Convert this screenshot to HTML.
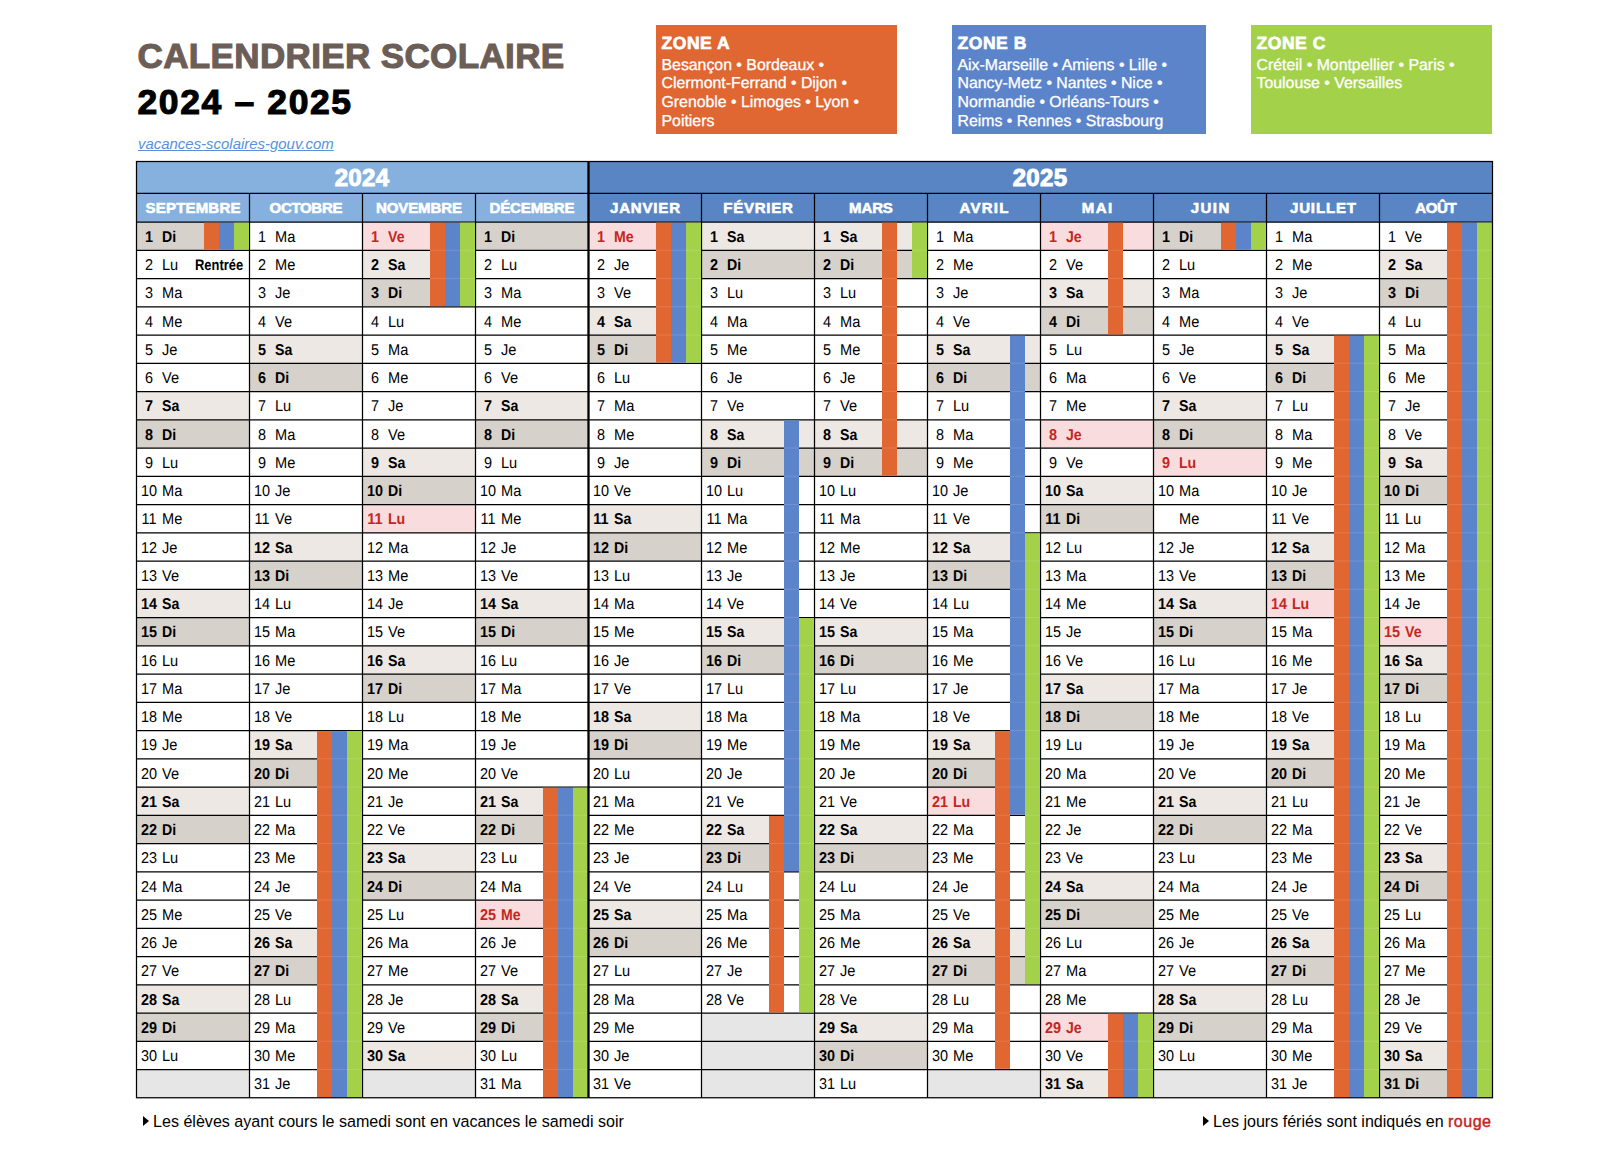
<!DOCTYPE html>
<html lang="fr"><head><meta charset="utf-8"><title>Calendrier scolaire 2024 – 2025</title>
<style>
html,body{margin:0;padding:0;background:#fff}
body{width:1610px;height:1154px;position:relative;overflow:hidden;font-family:"Liberation Sans",sans-serif;color:#000}
#g{position:absolute;left:0;top:0}
.d{position:absolute;width:113px;height:28.25px;line-height:28px;font-size:15.7px;text-rendering:geometricPrecision;white-space:nowrap}
.d .n{position:absolute;left:.7px;width:24px;text-align:center;font-weight:inherit;transform:scaleX(.92)}
.d .w{position:absolute;left:26.2px;transform:scaleX(.93);transform-origin:0 50%}
.d.b{font-weight:bold}
.d.h{font-weight:bold;color:#C4261D}
.d.b .w,.d.h .w{transform:scaleX(.9);left:26.2px}
.d b{font-weight:inherit}
.rt{position:absolute;left:58.5px;font-style:normal;font-weight:bold;font-size:15.2px;transform:scaleX(.85);transform-origin:0 50%}
.mh{position:absolute;top:193px;width:114px;height:30px;line-height:30px;text-align:center;color:#fff;font-weight:bold;font-size:15px;-webkit-text-stroke:.6px #fff}
.yh{position:absolute;top:162px;height:31px;line-height:32px;text-align:center;color:#fff;font-weight:bold;font-size:24px;-webkit-text-stroke:1px #fff;letter-spacing:.3px}
#t1{position:absolute;left:137.5px;top:36px;font-size:35px;line-height:40px;letter-spacing:.37px;font-weight:bold;color:#6B5E57;-webkit-text-stroke:1.1px #6B5E57;white-space:nowrap;transform-origin:0 50%}
#t2{position:absolute;left:137.5px;top:82px;font-size:35.5px;line-height:40px;letter-spacing:1.62px;font-weight:bold;color:#000;-webkit-text-stroke:1.1px #000;white-space:nowrap;transform-origin:0 50%}
#lk{position:absolute;left:138px;top:135px;font-size:14.95px;line-height:18px;font-style:italic;color:#5B8FDB;text-decoration:underline;white-space:nowrap}
.z{position:absolute;top:25px;height:109px;color:#fff;box-sizing:border-box;padding:8px 0 0 5.5px;font-size:15.85px;line-height:18.85px;white-space:nowrap;text-rendering:geometricPrecision;-webkit-text-stroke:.3px #fff}
.z h2{margin:0 0 3.5px 0;font-size:17.5px;line-height:20px;font-weight:bold;-webkit-text-stroke:.7px #fff;letter-spacing:.55px}
.ft{position:absolute;top:1111px;font-size:16.08px;line-height:20px;white-space:nowrap}
.ft i{display:inline-block;width:0;height:0;border-left:6.2px solid #000;border-top:5.3px solid transparent;border-bottom:5.3px solid transparent;margin-right:4px;vertical-align:.7px}
.ft b{color:#C4261D;font-weight:normal;-webkit-text-stroke:.45px #C4261D;letter-spacing:.45px}
</style></head><body>
<svg id="g" width="1610" height="1154" viewBox="0 0 1610 1154">
<rect x="136.5" y="161.5" width="452" height="60.5" fill="#86B0DE"/>
<rect x="588.5" y="161.5" width="904" height="60.5" fill="#5985C4"/>
<rect x="136.5" y="222" width="113" height="28.25" fill="#D6D1CB"/>
<rect x="136.5" y="391.5" width="113" height="28.25" fill="#EDE8E4"/>
<rect x="136.5" y="419.75" width="113" height="28.25" fill="#D6D1CB"/>
<rect x="136.5" y="589.25" width="113" height="28.25" fill="#EDE8E4"/>
<rect x="136.5" y="617.5" width="113" height="28.25" fill="#D6D1CB"/>
<rect x="136.5" y="787" width="113" height="28.25" fill="#EDE8E4"/>
<rect x="136.5" y="815.25" width="113" height="28.25" fill="#D6D1CB"/>
<rect x="136.5" y="984.75" width="113" height="28.25" fill="#EDE8E4"/>
<rect x="136.5" y="1013" width="113" height="28.25" fill="#D6D1CB"/>
<rect x="136.5" y="1069.5" width="113" height="28.25" fill="#E6E6E6"/>
<rect x="249.5" y="335" width="113" height="28.25" fill="#EDE8E4"/>
<rect x="249.5" y="363.25" width="113" height="28.25" fill="#D6D1CB"/>
<rect x="249.5" y="532.75" width="113" height="28.25" fill="#EDE8E4"/>
<rect x="249.5" y="561" width="113" height="28.25" fill="#D6D1CB"/>
<rect x="249.5" y="730.5" width="113" height="28.25" fill="#EDE8E4"/>
<rect x="249.5" y="758.75" width="113" height="28.25" fill="#D6D1CB"/>
<rect x="249.5" y="928.25" width="113" height="28.25" fill="#EDE8E4"/>
<rect x="249.5" y="956.5" width="113" height="28.25" fill="#D6D1CB"/>
<rect x="362.5" y="222" width="113" height="28.25" fill="#F9DCDD"/>
<rect x="362.5" y="250.25" width="113" height="28.25" fill="#EDE8E4"/>
<rect x="362.5" y="278.5" width="113" height="28.25" fill="#D6D1CB"/>
<rect x="362.5" y="448" width="113" height="28.25" fill="#EDE8E4"/>
<rect x="362.5" y="476.25" width="113" height="28.25" fill="#D6D1CB"/>
<rect x="362.5" y="504.5" width="113" height="28.25" fill="#F9DCDD"/>
<rect x="362.5" y="645.75" width="113" height="28.25" fill="#EDE8E4"/>
<rect x="362.5" y="674" width="113" height="28.25" fill="#D6D1CB"/>
<rect x="362.5" y="843.5" width="113" height="28.25" fill="#EDE8E4"/>
<rect x="362.5" y="871.75" width="113" height="28.25" fill="#D6D1CB"/>
<rect x="362.5" y="1041.25" width="113" height="28.25" fill="#EDE8E4"/>
<rect x="362.5" y="1069.5" width="113" height="28.25" fill="#E6E6E6"/>
<rect x="475.5" y="222" width="113" height="28.25" fill="#D6D1CB"/>
<rect x="475.5" y="391.5" width="113" height="28.25" fill="#EDE8E4"/>
<rect x="475.5" y="419.75" width="113" height="28.25" fill="#D6D1CB"/>
<rect x="475.5" y="589.25" width="113" height="28.25" fill="#EDE8E4"/>
<rect x="475.5" y="617.5" width="113" height="28.25" fill="#D6D1CB"/>
<rect x="475.5" y="787" width="113" height="28.25" fill="#EDE8E4"/>
<rect x="475.5" y="815.25" width="113" height="28.25" fill="#D6D1CB"/>
<rect x="475.5" y="900" width="113" height="28.25" fill="#F9DCDD"/>
<rect x="475.5" y="984.75" width="113" height="28.25" fill="#EDE8E4"/>
<rect x="475.5" y="1013" width="113" height="28.25" fill="#D6D1CB"/>
<rect x="588.5" y="222" width="113" height="28.25" fill="#F9DCDD"/>
<rect x="588.5" y="306.75" width="113" height="28.25" fill="#EDE8E4"/>
<rect x="588.5" y="335" width="113" height="28.25" fill="#D6D1CB"/>
<rect x="588.5" y="504.5" width="113" height="28.25" fill="#EDE8E4"/>
<rect x="588.5" y="532.75" width="113" height="28.25" fill="#D6D1CB"/>
<rect x="588.5" y="702.25" width="113" height="28.25" fill="#EDE8E4"/>
<rect x="588.5" y="730.5" width="113" height="28.25" fill="#D6D1CB"/>
<rect x="588.5" y="900" width="113" height="28.25" fill="#EDE8E4"/>
<rect x="588.5" y="928.25" width="113" height="28.25" fill="#D6D1CB"/>
<rect x="701.5" y="222" width="113" height="28.25" fill="#EDE8E4"/>
<rect x="701.5" y="250.25" width="113" height="28.25" fill="#D6D1CB"/>
<rect x="701.5" y="419.75" width="113" height="28.25" fill="#EDE8E4"/>
<rect x="701.5" y="448" width="113" height="28.25" fill="#D6D1CB"/>
<rect x="701.5" y="617.5" width="113" height="28.25" fill="#EDE8E4"/>
<rect x="701.5" y="645.75" width="113" height="28.25" fill="#D6D1CB"/>
<rect x="701.5" y="815.25" width="113" height="28.25" fill="#EDE8E4"/>
<rect x="701.5" y="843.5" width="113" height="28.25" fill="#D6D1CB"/>
<rect x="701.5" y="1013" width="113" height="28.25" fill="#E6E6E6"/>
<rect x="701.5" y="1041.25" width="113" height="28.25" fill="#E6E6E6"/>
<rect x="701.5" y="1069.5" width="113" height="28.25" fill="#E6E6E6"/>
<rect x="814.5" y="222" width="113" height="28.25" fill="#EDE8E4"/>
<rect x="814.5" y="250.25" width="113" height="28.25" fill="#D6D1CB"/>
<rect x="814.5" y="419.75" width="113" height="28.25" fill="#EDE8E4"/>
<rect x="814.5" y="448" width="113" height="28.25" fill="#D6D1CB"/>
<rect x="814.5" y="617.5" width="113" height="28.25" fill="#EDE8E4"/>
<rect x="814.5" y="645.75" width="113" height="28.25" fill="#D6D1CB"/>
<rect x="814.5" y="815.25" width="113" height="28.25" fill="#EDE8E4"/>
<rect x="814.5" y="843.5" width="113" height="28.25" fill="#D6D1CB"/>
<rect x="814.5" y="1013" width="113" height="28.25" fill="#EDE8E4"/>
<rect x="814.5" y="1041.25" width="113" height="28.25" fill="#D6D1CB"/>
<rect x="927.5" y="335" width="113" height="28.25" fill="#EDE8E4"/>
<rect x="927.5" y="363.25" width="113" height="28.25" fill="#D6D1CB"/>
<rect x="927.5" y="532.75" width="113" height="28.25" fill="#EDE8E4"/>
<rect x="927.5" y="561" width="113" height="28.25" fill="#D6D1CB"/>
<rect x="927.5" y="730.5" width="113" height="28.25" fill="#EDE8E4"/>
<rect x="927.5" y="758.75" width="113" height="28.25" fill="#D6D1CB"/>
<rect x="927.5" y="787" width="113" height="28.25" fill="#F9DCDD"/>
<rect x="927.5" y="928.25" width="113" height="28.25" fill="#EDE8E4"/>
<rect x="927.5" y="956.5" width="113" height="28.25" fill="#D6D1CB"/>
<rect x="927.5" y="1069.5" width="113" height="28.25" fill="#E6E6E6"/>
<rect x="1040.5" y="222" width="113" height="28.25" fill="#F9DCDD"/>
<rect x="1040.5" y="278.5" width="113" height="28.25" fill="#EDE8E4"/>
<rect x="1040.5" y="306.75" width="113" height="28.25" fill="#D6D1CB"/>
<rect x="1040.5" y="419.75" width="113" height="28.25" fill="#F9DCDD"/>
<rect x="1040.5" y="476.25" width="113" height="28.25" fill="#EDE8E4"/>
<rect x="1040.5" y="504.5" width="113" height="28.25" fill="#D6D1CB"/>
<rect x="1040.5" y="674" width="113" height="28.25" fill="#EDE8E4"/>
<rect x="1040.5" y="702.25" width="113" height="28.25" fill="#D6D1CB"/>
<rect x="1040.5" y="871.75" width="113" height="28.25" fill="#EDE8E4"/>
<rect x="1040.5" y="900" width="113" height="28.25" fill="#D6D1CB"/>
<rect x="1040.5" y="1013" width="113" height="28.25" fill="#F9DCDD"/>
<rect x="1040.5" y="1069.5" width="113" height="28.25" fill="#EDE8E4"/>
<rect x="1153.5" y="222" width="113" height="28.25" fill="#D6D1CB"/>
<rect x="1153.5" y="391.5" width="113" height="28.25" fill="#EDE8E4"/>
<rect x="1153.5" y="419.75" width="113" height="28.25" fill="#D6D1CB"/>
<rect x="1153.5" y="448" width="113" height="28.25" fill="#F9DCDD"/>
<rect x="1153.5" y="589.25" width="113" height="28.25" fill="#EDE8E4"/>
<rect x="1153.5" y="617.5" width="113" height="28.25" fill="#D6D1CB"/>
<rect x="1153.5" y="787" width="113" height="28.25" fill="#EDE8E4"/>
<rect x="1153.5" y="815.25" width="113" height="28.25" fill="#D6D1CB"/>
<rect x="1153.5" y="984.75" width="113" height="28.25" fill="#EDE8E4"/>
<rect x="1153.5" y="1013" width="113" height="28.25" fill="#D6D1CB"/>
<rect x="1153.5" y="1069.5" width="113" height="28.25" fill="#E6E6E6"/>
<rect x="1266.5" y="335" width="113" height="28.25" fill="#EDE8E4"/>
<rect x="1266.5" y="363.25" width="113" height="28.25" fill="#D6D1CB"/>
<rect x="1266.5" y="532.75" width="113" height="28.25" fill="#EDE8E4"/>
<rect x="1266.5" y="561" width="113" height="28.25" fill="#D6D1CB"/>
<rect x="1266.5" y="589.25" width="113" height="28.25" fill="#F9DCDD"/>
<rect x="1266.5" y="730.5" width="113" height="28.25" fill="#EDE8E4"/>
<rect x="1266.5" y="758.75" width="113" height="28.25" fill="#D6D1CB"/>
<rect x="1266.5" y="928.25" width="113" height="28.25" fill="#EDE8E4"/>
<rect x="1266.5" y="956.5" width="113" height="28.25" fill="#D6D1CB"/>
<rect x="1379.5" y="250.25" width="113" height="28.25" fill="#EDE8E4"/>
<rect x="1379.5" y="278.5" width="113" height="28.25" fill="#D6D1CB"/>
<rect x="1379.5" y="448" width="113" height="28.25" fill="#EDE8E4"/>
<rect x="1379.5" y="476.25" width="113" height="28.25" fill="#D6D1CB"/>
<rect x="1379.5" y="617.5" width="113" height="28.25" fill="#F9DCDD"/>
<rect x="1379.5" y="645.75" width="113" height="28.25" fill="#EDE8E4"/>
<rect x="1379.5" y="674" width="113" height="28.25" fill="#D6D1CB"/>
<rect x="1379.5" y="843.5" width="113" height="28.25" fill="#EDE8E4"/>
<rect x="1379.5" y="871.75" width="113" height="28.25" fill="#D6D1CB"/>
<rect x="1379.5" y="1041.25" width="113" height="28.25" fill="#EDE8E4"/>
<rect x="1379.5" y="1069.5" width="113" height="28.25" fill="#D6D1CB"/>
<path d="M136.5 250.25H1492.5M136.5 278.5H1492.5M136.5 306.75H1492.5M136.5 335H1492.5M136.5 363.25H1492.5M136.5 391.5H1492.5M136.5 419.75H1492.5M136.5 448H1492.5M136.5 476.25H1492.5M136.5 504.5H1492.5M136.5 532.75H1492.5M136.5 561H1492.5M136.5 589.25H1492.5M136.5 617.5H1492.5M136.5 645.75H1492.5M136.5 674H1492.5M136.5 702.25H1492.5M136.5 730.5H1492.5M136.5 758.75H1492.5M136.5 787H1492.5M136.5 815.25H1492.5M136.5 843.5H1492.5M136.5 871.75H1492.5M136.5 900H1492.5M136.5 928.25H1492.5M136.5 956.5H1492.5M136.5 984.75H1492.5M136.5 1013H1492.5M136.5 1041.25H1492.5M136.5 1069.5H1492.5M136.5 193.4H1492.5M136.5 222H1492.5M249.5 193.4V1097.75M362.5 193.4V1097.75M475.5 193.4V1097.75M701.5 193.4V1097.75M814.5 193.4V1097.75M927.5 193.4V1097.75M1040.5 193.4V1097.75M1153.5 193.4V1097.75M1266.5 193.4V1097.75M1379.5 193.4V1097.75" stroke="#000" stroke-width="1.25" fill="none"/>
<rect x="204" y="222.62" width="15" height="27" fill="#E06632"/>
<rect x="219" y="222.62" width="15" height="27" fill="#5C84CB"/>
<rect x="234" y="222.62" width="15" height="27" fill="#A4D14A"/>
<rect x="317" y="731.12" width="15" height="366" fill="#E06632"/>
<rect x="332" y="731.12" width="15" height="366" fill="#5C84CB"/>
<rect x="347" y="731.12" width="15" height="366" fill="#A4D14A"/>
<rect x="430" y="222.62" width="15" height="83.5" fill="#E06632"/>
<rect x="445" y="222.62" width="15" height="83.5" fill="#5C84CB"/>
<rect x="460" y="222.62" width="15" height="83.5" fill="#A4D14A"/>
<rect x="543" y="787.62" width="15" height="309.5" fill="#E06632"/>
<rect x="558" y="787.62" width="15" height="309.5" fill="#5C84CB"/>
<rect x="573" y="787.62" width="15" height="309.5" fill="#A4D14A"/>
<rect x="656" y="222.62" width="15" height="140" fill="#E06632"/>
<rect x="671" y="222.62" width="15" height="140" fill="#5C84CB"/>
<rect x="686" y="222.62" width="15" height="140" fill="#A4D14A"/>
<rect x="769" y="815.88" width="15" height="196.5" fill="#E06632"/>
<rect x="784" y="420.38" width="15" height="450.75" fill="#5C84CB"/>
<rect x="799" y="618.12" width="15" height="394.25" fill="#A4D14A"/>
<rect x="882" y="222.62" width="15" height="253" fill="#E06632"/>
<rect x="912" y="222.62" width="15" height="55.25" fill="#A4D14A"/>
<rect x="995" y="731.12" width="15" height="337.75" fill="#E06632"/>
<rect x="1010" y="335.62" width="15" height="479" fill="#5C84CB"/>
<rect x="1025" y="533.38" width="15" height="450.75" fill="#A4D14A"/>
<rect x="1108" y="222.62" width="15" height="111.75" fill="#E06632"/>
<rect x="1108" y="1013.62" width="15" height="83.5" fill="#E06632"/>
<rect x="1123" y="1013.62" width="15" height="83.5" fill="#5C84CB"/>
<rect x="1138" y="1013.62" width="15" height="83.5" fill="#A4D14A"/>
<rect x="1221" y="222.62" width="15" height="27" fill="#E06632"/>
<rect x="1236" y="222.62" width="15" height="27" fill="#5C84CB"/>
<rect x="1251" y="222.62" width="15" height="27" fill="#A4D14A"/>
<rect x="1334" y="335.62" width="15" height="761.5" fill="#E06632"/>
<rect x="1349" y="335.62" width="15" height="761.5" fill="#5C84CB"/>
<rect x="1364" y="335.62" width="15" height="761.5" fill="#A4D14A"/>
<rect x="1447" y="222.62" width="15" height="874.5" fill="#E06632"/>
<rect x="1462" y="222.62" width="15" height="874.5" fill="#5C84CB"/>
<rect x="1477" y="222.62" width="15" height="874.5" fill="#A4D14A"/>
<path d="M317 758.75h15M317 787h15M317 815.25h15M317 843.5h15M317 871.75h15M317 900h15M317 928.25h15M317 956.5h15M317 984.75h15M317 1013h15M317 1041.25h15M317 1069.5h15M332 758.75h15M332 787h15M332 815.25h15M332 843.5h15M332 871.75h15M332 900h15M332 928.25h15M332 956.5h15M332 984.75h15M332 1013h15M332 1041.25h15M332 1069.5h15M347 758.75h15M347 787h15M347 815.25h15M347 843.5h15M347 871.75h15M347 900h15M347 928.25h15M347 956.5h15M347 984.75h15M347 1013h15M347 1041.25h15M347 1069.5h15M430 250.25h15M430 278.5h15M445 250.25h15M445 278.5h15M460 250.25h15M460 278.5h15M543 815.25h15M543 843.5h15M543 871.75h15M543 900h15M543 928.25h15M543 956.5h15M543 984.75h15M543 1013h15M543 1041.25h15M543 1069.5h15M558 815.25h15M558 843.5h15M558 871.75h15M558 900h15M558 928.25h15M558 956.5h15M558 984.75h15M558 1013h15M558 1041.25h15M558 1069.5h15M573 815.25h15M573 843.5h15M573 871.75h15M573 900h15M573 928.25h15M573 956.5h15M573 984.75h15M573 1013h15M573 1041.25h15M573 1069.5h15M656 250.25h15M656 278.5h15M656 306.75h15M656 335h15M671 250.25h15M671 278.5h15M671 306.75h15M671 335h15M686 250.25h15M686 278.5h15M686 306.75h15M686 335h15M769 843.5h15M769 871.75h15M769 900h15M769 928.25h15M769 956.5h15M769 984.75h15M784 448h15M784 476.25h15M784 504.5h15M784 532.75h15M784 561h15M784 589.25h15M784 617.5h15M784 645.75h15M784 674h15M784 702.25h15M784 730.5h15M784 758.75h15M784 787h15M784 815.25h15M784 843.5h15M799 645.75h15M799 674h15M799 702.25h15M799 730.5h15M799 758.75h15M799 787h15M799 815.25h15M799 843.5h15M799 871.75h15M799 900h15M799 928.25h15M799 956.5h15M799 984.75h15M882 250.25h15M882 278.5h15M882 306.75h15M882 335h15M882 363.25h15M882 391.5h15M882 419.75h15M882 448h15M912 250.25h15M995 758.75h15M995 787h15M995 815.25h15M995 843.5h15M995 871.75h15M995 900h15M995 928.25h15M995 956.5h15M995 984.75h15M995 1013h15M995 1041.25h15M1010 363.25h15M1010 391.5h15M1010 419.75h15M1010 448h15M1010 476.25h15M1010 504.5h15M1010 532.75h15M1010 561h15M1010 589.25h15M1010 617.5h15M1010 645.75h15M1010 674h15M1010 702.25h15M1010 730.5h15M1010 758.75h15M1010 787h15M1025 561h15M1025 589.25h15M1025 617.5h15M1025 645.75h15M1025 674h15M1025 702.25h15M1025 730.5h15M1025 758.75h15M1025 787h15M1025 815.25h15M1025 843.5h15M1025 871.75h15M1025 900h15M1025 928.25h15M1025 956.5h15M1108 250.25h15M1108 278.5h15M1108 306.75h15M1108 1041.25h15M1108 1069.5h15M1123 1041.25h15M1123 1069.5h15M1138 1041.25h15M1138 1069.5h15M1334 363.25h15M1334 391.5h15M1334 419.75h15M1334 448h15M1334 476.25h15M1334 504.5h15M1334 532.75h15M1334 561h15M1334 589.25h15M1334 617.5h15M1334 645.75h15M1334 674h15M1334 702.25h15M1334 730.5h15M1334 758.75h15M1334 787h15M1334 815.25h15M1334 843.5h15M1334 871.75h15M1334 900h15M1334 928.25h15M1334 956.5h15M1334 984.75h15M1334 1013h15M1334 1041.25h15M1334 1069.5h15M1349 363.25h15M1349 391.5h15M1349 419.75h15M1349 448h15M1349 476.25h15M1349 504.5h15M1349 532.75h15M1349 561h15M1349 589.25h15M1349 617.5h15M1349 645.75h15M1349 674h15M1349 702.25h15M1349 730.5h15M1349 758.75h15M1349 787h15M1349 815.25h15M1349 843.5h15M1349 871.75h15M1349 900h15M1349 928.25h15M1349 956.5h15M1349 984.75h15M1349 1013h15M1349 1041.25h15M1349 1069.5h15M1364 363.25h15M1364 391.5h15M1364 419.75h15M1364 448h15M1364 476.25h15M1364 504.5h15M1364 532.75h15M1364 561h15M1364 589.25h15M1364 617.5h15M1364 645.75h15M1364 674h15M1364 702.25h15M1364 730.5h15M1364 758.75h15M1364 787h15M1364 815.25h15M1364 843.5h15M1364 871.75h15M1364 900h15M1364 928.25h15M1364 956.5h15M1364 984.75h15M1364 1013h15M1364 1041.25h15M1364 1069.5h15M1447 250.25h15M1447 278.5h15M1447 306.75h15M1447 335h15M1447 363.25h15M1447 391.5h15M1447 419.75h15M1447 448h15M1447 476.25h15M1447 504.5h15M1447 532.75h15M1447 561h15M1447 589.25h15M1447 617.5h15M1447 645.75h15M1447 674h15M1447 702.25h15M1447 730.5h15M1447 758.75h15M1447 787h15M1447 815.25h15M1447 843.5h15M1447 871.75h15M1447 900h15M1447 928.25h15M1447 956.5h15M1447 984.75h15M1447 1013h15M1447 1041.25h15M1447 1069.5h15M1462 250.25h15M1462 278.5h15M1462 306.75h15M1462 335h15M1462 363.25h15M1462 391.5h15M1462 419.75h15M1462 448h15M1462 476.25h15M1462 504.5h15M1462 532.75h15M1462 561h15M1462 589.25h15M1462 617.5h15M1462 645.75h15M1462 674h15M1462 702.25h15M1462 730.5h15M1462 758.75h15M1462 787h15M1462 815.25h15M1462 843.5h15M1462 871.75h15M1462 900h15M1462 928.25h15M1462 956.5h15M1462 984.75h15M1462 1013h15M1462 1041.25h15M1462 1069.5h15M1477 250.25h15M1477 278.5h15M1477 306.75h15M1477 335h15M1477 363.25h15M1477 391.5h15M1477 419.75h15M1477 448h15M1477 476.25h15M1477 504.5h15M1477 532.75h15M1477 561h15M1477 589.25h15M1477 617.5h15M1477 645.75h15M1477 674h15M1477 702.25h15M1477 730.5h15M1477 758.75h15M1477 787h15M1477 815.25h15M1477 843.5h15M1477 871.75h15M1477 900h15M1477 928.25h15M1477 956.5h15M1477 984.75h15M1477 1013h15M1477 1041.25h15M1477 1069.5h15" stroke="#fff" stroke-opacity="0.13" stroke-width="1" fill="none"/>
<rect x="136.5" y="161.5" width="1356" height="936.25" fill="none" stroke="#000" stroke-width="1.25"/>
<path d="M588.5 161.5V1097.75" stroke="#000" stroke-width="2.3" fill="none"/>
</svg>
<div id="t1">CALENDRIER SCOLAIRE</div>
<div id="t2">2024 – 2025</div>
<a id="lk">vacances-scolaires-gouv.com</a>
<div class="z" style="left:656px;width:241px;background:#E06632"><h2>ZONE A</h2>Besançon • Bordeaux •<br>Clermont-Ferrand • Dijon •<br>Grenoble • Limoges • Lyon •<br>Poitiers</div>
<div class="z" style="left:952px;width:254px;background:#5C84CB"><h2>ZONE B</h2>Aix-Marseille • Amiens • Lille •<br>Nancy-Metz • Nantes • Nice •<br>Normandie • Orléans-Tours •<br>Reims • Rennes • Strasbourg</div>
<div class="z" style="left:1251px;width:241px;background:#A4D14A"><h2>ZONE C</h2>Créteil • Montpellier • Paris •<br>Toulouse • Versailles</div>
<div class="yh" style="left:136px;width:452px">2024</div>
<div class="yh" style="left:588px;width:904px">2025</div>
<div class="mh" style="left:136.09px;letter-spacing:0.19px">SEPTEMBRE</div>
<div class="d b" style="left:136px;top:224px"><b class="n">1</b><span class="w">Di</span></div>
<div class="d" style="left:136px;top:252px"><b class="n">2</b><span class="w">Lu</span><i class="rt">Rentrée</i></div>
<div class="d" style="left:136px;top:280px"><b class="n">3</b><span class="w">Ma</span></div>
<div class="d" style="left:136px;top:309px"><b class="n">4</b><span class="w">Me</span></div>
<div class="d" style="left:136px;top:337px"><b class="n">5</b><span class="w">Je</span></div>
<div class="d" style="left:136px;top:365px"><b class="n">6</b><span class="w">Ve</span></div>
<div class="d b" style="left:136px;top:393px"><b class="n">7</b><span class="w">Sa</span></div>
<div class="d b" style="left:136px;top:422px"><b class="n">8</b><span class="w">Di</span></div>
<div class="d" style="left:136px;top:450px"><b class="n">9</b><span class="w">Lu</span></div>
<div class="d" style="left:136px;top:478px"><b class="n">10</b><span class="w">Ma</span></div>
<div class="d" style="left:136px;top:506px"><b class="n">11</b><span class="w">Me</span></div>
<div class="d" style="left:136px;top:535px"><b class="n">12</b><span class="w">Je</span></div>
<div class="d" style="left:136px;top:563px"><b class="n">13</b><span class="w">Ve</span></div>
<div class="d b" style="left:136px;top:591px"><b class="n">14</b><span class="w">Sa</span></div>
<div class="d b" style="left:136px;top:619px"><b class="n">15</b><span class="w">Di</span></div>
<div class="d" style="left:136px;top:648px"><b class="n">16</b><span class="w">Lu</span></div>
<div class="d" style="left:136px;top:676px"><b class="n">17</b><span class="w">Ma</span></div>
<div class="d" style="left:136px;top:704px"><b class="n">18</b><span class="w">Me</span></div>
<div class="d" style="left:136px;top:732px"><b class="n">19</b><span class="w">Je</span></div>
<div class="d" style="left:136px;top:761px"><b class="n">20</b><span class="w">Ve</span></div>
<div class="d b" style="left:136px;top:789px"><b class="n">21</b><span class="w">Sa</span></div>
<div class="d b" style="left:136px;top:817px"><b class="n">22</b><span class="w">Di</span></div>
<div class="d" style="left:136px;top:845px"><b class="n">23</b><span class="w">Lu</span></div>
<div class="d" style="left:136px;top:874px"><b class="n">24</b><span class="w">Ma</span></div>
<div class="d" style="left:136px;top:902px"><b class="n">25</b><span class="w">Me</span></div>
<div class="d" style="left:136px;top:930px"><b class="n">26</b><span class="w">Je</span></div>
<div class="d" style="left:136px;top:958px"><b class="n">27</b><span class="w">Ve</span></div>
<div class="d b" style="left:136px;top:987px"><b class="n">28</b><span class="w">Sa</span></div>
<div class="d b" style="left:136px;top:1015px"><b class="n">29</b><span class="w">Di</span></div>
<div class="d" style="left:136px;top:1043px"><b class="n">30</b><span class="w">Lu</span></div>
<div class="mh" style="left:248.85px;letter-spacing:-0.3px">OCTOBRE</div>
<div class="d" style="left:249px;top:224px"><b class="n">1</b><span class="w">Ma</span></div>
<div class="d" style="left:249px;top:252px"><b class="n">2</b><span class="w">Me</span></div>
<div class="d" style="left:249px;top:280px"><b class="n">3</b><span class="w">Je</span></div>
<div class="d" style="left:249px;top:309px"><b class="n">4</b><span class="w">Ve</span></div>
<div class="d b" style="left:249px;top:337px"><b class="n">5</b><span class="w">Sa</span></div>
<div class="d b" style="left:249px;top:365px"><b class="n">6</b><span class="w">Di</span></div>
<div class="d" style="left:249px;top:393px"><b class="n">7</b><span class="w">Lu</span></div>
<div class="d" style="left:249px;top:422px"><b class="n">8</b><span class="w">Ma</span></div>
<div class="d" style="left:249px;top:450px"><b class="n">9</b><span class="w">Me</span></div>
<div class="d" style="left:249px;top:478px"><b class="n">10</b><span class="w">Je</span></div>
<div class="d" style="left:249px;top:506px"><b class="n">11</b><span class="w">Ve</span></div>
<div class="d b" style="left:249px;top:535px"><b class="n">12</b><span class="w">Sa</span></div>
<div class="d b" style="left:249px;top:563px"><b class="n">13</b><span class="w">Di</span></div>
<div class="d" style="left:249px;top:591px"><b class="n">14</b><span class="w">Lu</span></div>
<div class="d" style="left:249px;top:619px"><b class="n">15</b><span class="w">Ma</span></div>
<div class="d" style="left:249px;top:648px"><b class="n">16</b><span class="w">Me</span></div>
<div class="d" style="left:249px;top:676px"><b class="n">17</b><span class="w">Je</span></div>
<div class="d" style="left:249px;top:704px"><b class="n">18</b><span class="w">Ve</span></div>
<div class="d b" style="left:249px;top:732px"><b class="n">19</b><span class="w">Sa</span></div>
<div class="d b" style="left:249px;top:761px"><b class="n">20</b><span class="w">Di</span></div>
<div class="d" style="left:249px;top:789px"><b class="n">21</b><span class="w">Lu</span></div>
<div class="d" style="left:249px;top:817px"><b class="n">22</b><span class="w">Ma</span></div>
<div class="d" style="left:249px;top:845px"><b class="n">23</b><span class="w">Me</span></div>
<div class="d" style="left:249px;top:874px"><b class="n">24</b><span class="w">Je</span></div>
<div class="d" style="left:249px;top:902px"><b class="n">25</b><span class="w">Ve</span></div>
<div class="d b" style="left:249px;top:930px"><b class="n">26</b><span class="w">Sa</span></div>
<div class="d b" style="left:249px;top:958px"><b class="n">27</b><span class="w">Di</span></div>
<div class="d" style="left:249px;top:987px"><b class="n">28</b><span class="w">Lu</span></div>
<div class="d" style="left:249px;top:1015px"><b class="n">29</b><span class="w">Ma</span></div>
<div class="d" style="left:249px;top:1043px"><b class="n">30</b><span class="w">Me</span></div>
<div class="d" style="left:249px;top:1071px"><b class="n">31</b><span class="w">Je</span></div>
<div class="mh" style="left:361.95px;letter-spacing:-0.1px">NOVEMBRE</div>
<div class="d h" style="left:362px;top:224px"><b class="n">1</b><span class="w">Ve</span></div>
<div class="d b" style="left:362px;top:252px"><b class="n">2</b><span class="w">Sa</span></div>
<div class="d b" style="left:362px;top:280px"><b class="n">3</b><span class="w">Di</span></div>
<div class="d" style="left:362px;top:309px"><b class="n">4</b><span class="w">Lu</span></div>
<div class="d" style="left:362px;top:337px"><b class="n">5</b><span class="w">Ma</span></div>
<div class="d" style="left:362px;top:365px"><b class="n">6</b><span class="w">Me</span></div>
<div class="d" style="left:362px;top:393px"><b class="n">7</b><span class="w">Je</span></div>
<div class="d" style="left:362px;top:422px"><b class="n">8</b><span class="w">Ve</span></div>
<div class="d b" style="left:362px;top:450px"><b class="n">9</b><span class="w">Sa</span></div>
<div class="d b" style="left:362px;top:478px"><b class="n">10</b><span class="w">Di</span></div>
<div class="d h" style="left:362px;top:506px"><b class="n">11</b><span class="w">Lu</span></div>
<div class="d" style="left:362px;top:535px"><b class="n">12</b><span class="w">Ma</span></div>
<div class="d" style="left:362px;top:563px"><b class="n">13</b><span class="w">Me</span></div>
<div class="d" style="left:362px;top:591px"><b class="n">14</b><span class="w">Je</span></div>
<div class="d" style="left:362px;top:619px"><b class="n">15</b><span class="w">Ve</span></div>
<div class="d b" style="left:362px;top:648px"><b class="n">16</b><span class="w">Sa</span></div>
<div class="d b" style="left:362px;top:676px"><b class="n">17</b><span class="w">Di</span></div>
<div class="d" style="left:362px;top:704px"><b class="n">18</b><span class="w">Lu</span></div>
<div class="d" style="left:362px;top:732px"><b class="n">19</b><span class="w">Ma</span></div>
<div class="d" style="left:362px;top:761px"><b class="n">20</b><span class="w">Me</span></div>
<div class="d" style="left:362px;top:789px"><b class="n">21</b><span class="w">Je</span></div>
<div class="d" style="left:362px;top:817px"><b class="n">22</b><span class="w">Ve</span></div>
<div class="d b" style="left:362px;top:845px"><b class="n">23</b><span class="w">Sa</span></div>
<div class="d b" style="left:362px;top:874px"><b class="n">24</b><span class="w">Di</span></div>
<div class="d" style="left:362px;top:902px"><b class="n">25</b><span class="w">Lu</span></div>
<div class="d" style="left:362px;top:930px"><b class="n">26</b><span class="w">Ma</span></div>
<div class="d" style="left:362px;top:958px"><b class="n">27</b><span class="w">Me</span></div>
<div class="d" style="left:362px;top:987px"><b class="n">28</b><span class="w">Je</span></div>
<div class="d" style="left:362px;top:1015px"><b class="n">29</b><span class="w">Ve</span></div>
<div class="d b" style="left:362px;top:1043px"><b class="n">30</b><span class="w">Sa</span></div>
<div class="mh" style="left:474.94px;letter-spacing:-0.13px">DÉCEMBRE</div>
<div class="d b" style="left:475px;top:224px"><b class="n">1</b><span class="w">Di</span></div>
<div class="d" style="left:475px;top:252px"><b class="n">2</b><span class="w">Lu</span></div>
<div class="d" style="left:475px;top:280px"><b class="n">3</b><span class="w">Ma</span></div>
<div class="d" style="left:475px;top:309px"><b class="n">4</b><span class="w">Me</span></div>
<div class="d" style="left:475px;top:337px"><b class="n">5</b><span class="w">Je</span></div>
<div class="d" style="left:475px;top:365px"><b class="n">6</b><span class="w">Ve</span></div>
<div class="d b" style="left:475px;top:393px"><b class="n">7</b><span class="w">Sa</span></div>
<div class="d b" style="left:475px;top:422px"><b class="n">8</b><span class="w">Di</span></div>
<div class="d" style="left:475px;top:450px"><b class="n">9</b><span class="w">Lu</span></div>
<div class="d" style="left:475px;top:478px"><b class="n">10</b><span class="w">Ma</span></div>
<div class="d" style="left:475px;top:506px"><b class="n">11</b><span class="w">Me</span></div>
<div class="d" style="left:475px;top:535px"><b class="n">12</b><span class="w">Je</span></div>
<div class="d" style="left:475px;top:563px"><b class="n">13</b><span class="w">Ve</span></div>
<div class="d b" style="left:475px;top:591px"><b class="n">14</b><span class="w">Sa</span></div>
<div class="d b" style="left:475px;top:619px"><b class="n">15</b><span class="w">Di</span></div>
<div class="d" style="left:475px;top:648px"><b class="n">16</b><span class="w">Lu</span></div>
<div class="d" style="left:475px;top:676px"><b class="n">17</b><span class="w">Ma</span></div>
<div class="d" style="left:475px;top:704px"><b class="n">18</b><span class="w">Me</span></div>
<div class="d" style="left:475px;top:732px"><b class="n">19</b><span class="w">Je</span></div>
<div class="d" style="left:475px;top:761px"><b class="n">20</b><span class="w">Ve</span></div>
<div class="d b" style="left:475px;top:789px"><b class="n">21</b><span class="w">Sa</span></div>
<div class="d b" style="left:475px;top:817px"><b class="n">22</b><span class="w">Di</span></div>
<div class="d" style="left:475px;top:845px"><b class="n">23</b><span class="w">Lu</span></div>
<div class="d" style="left:475px;top:874px"><b class="n">24</b><span class="w">Ma</span></div>
<div class="d h" style="left:475px;top:902px"><b class="n">25</b><span class="w">Me</span></div>
<div class="d" style="left:475px;top:930px"><b class="n">26</b><span class="w">Je</span></div>
<div class="d" style="left:475px;top:958px"><b class="n">27</b><span class="w">Ve</span></div>
<div class="d b" style="left:475px;top:987px"><b class="n">28</b><span class="w">Sa</span></div>
<div class="d b" style="left:475px;top:1015px"><b class="n">29</b><span class="w">Di</span></div>
<div class="d" style="left:475px;top:1043px"><b class="n">30</b><span class="w">Lu</span></div>
<div class="d" style="left:475px;top:1071px"><b class="n">31</b><span class="w">Ma</span></div>
<div class="mh" style="left:588.41px;letter-spacing:0.83px">JANVIER</div>
<div class="d h" style="left:588px;top:224px"><b class="n">1</b><span class="w">Me</span></div>
<div class="d" style="left:588px;top:252px"><b class="n">2</b><span class="w">Je</span></div>
<div class="d" style="left:588px;top:280px"><b class="n">3</b><span class="w">Ve</span></div>
<div class="d b" style="left:588px;top:309px"><b class="n">4</b><span class="w">Sa</span></div>
<div class="d b" style="left:588px;top:337px"><b class="n">5</b><span class="w">Di</span></div>
<div class="d" style="left:588px;top:365px"><b class="n">6</b><span class="w">Lu</span></div>
<div class="d" style="left:588px;top:393px"><b class="n">7</b><span class="w">Ma</span></div>
<div class="d" style="left:588px;top:422px"><b class="n">8</b><span class="w">Me</span></div>
<div class="d" style="left:588px;top:450px"><b class="n">9</b><span class="w">Je</span></div>
<div class="d" style="left:588px;top:478px"><b class="n">10</b><span class="w">Ve</span></div>
<div class="d b" style="left:588px;top:506px"><b class="n">11</b><span class="w">Sa</span></div>
<div class="d b" style="left:588px;top:535px"><b class="n">12</b><span class="w">Di</span></div>
<div class="d" style="left:588px;top:563px"><b class="n">13</b><span class="w">Lu</span></div>
<div class="d" style="left:588px;top:591px"><b class="n">14</b><span class="w">Ma</span></div>
<div class="d" style="left:588px;top:619px"><b class="n">15</b><span class="w">Me</span></div>
<div class="d" style="left:588px;top:648px"><b class="n">16</b><span class="w">Je</span></div>
<div class="d" style="left:588px;top:676px"><b class="n">17</b><span class="w">Ve</span></div>
<div class="d b" style="left:588px;top:704px"><b class="n">18</b><span class="w">Sa</span></div>
<div class="d b" style="left:588px;top:732px"><b class="n">19</b><span class="w">Di</span></div>
<div class="d" style="left:588px;top:761px"><b class="n">20</b><span class="w">Lu</span></div>
<div class="d" style="left:588px;top:789px"><b class="n">21</b><span class="w">Ma</span></div>
<div class="d" style="left:588px;top:817px"><b class="n">22</b><span class="w">Me</span></div>
<div class="d" style="left:588px;top:845px"><b class="n">23</b><span class="w">Je</span></div>
<div class="d" style="left:588px;top:874px"><b class="n">24</b><span class="w">Ve</span></div>
<div class="d b" style="left:588px;top:902px"><b class="n">25</b><span class="w">Sa</span></div>
<div class="d b" style="left:588px;top:930px"><b class="n">26</b><span class="w">Di</span></div>
<div class="d" style="left:588px;top:958px"><b class="n">27</b><span class="w">Lu</span></div>
<div class="d" style="left:588px;top:987px"><b class="n">28</b><span class="w">Ma</span></div>
<div class="d" style="left:588px;top:1015px"><b class="n">29</b><span class="w">Me</span></div>
<div class="d" style="left:588px;top:1043px"><b class="n">30</b><span class="w">Je</span></div>
<div class="d" style="left:588px;top:1071px"><b class="n">31</b><span class="w">Ve</span></div>
<div class="mh" style="left:701.38px;letter-spacing:0.75px">FÉVRIER</div>
<div class="d b" style="left:701px;top:224px"><b class="n">1</b><span class="w">Sa</span></div>
<div class="d b" style="left:701px;top:252px"><b class="n">2</b><span class="w">Di</span></div>
<div class="d" style="left:701px;top:280px"><b class="n">3</b><span class="w">Lu</span></div>
<div class="d" style="left:701px;top:309px"><b class="n">4</b><span class="w">Ma</span></div>
<div class="d" style="left:701px;top:337px"><b class="n">5</b><span class="w">Me</span></div>
<div class="d" style="left:701px;top:365px"><b class="n">6</b><span class="w">Je</span></div>
<div class="d" style="left:701px;top:393px"><b class="n">7</b><span class="w">Ve</span></div>
<div class="d b" style="left:701px;top:422px"><b class="n">8</b><span class="w">Sa</span></div>
<div class="d b" style="left:701px;top:450px"><b class="n">9</b><span class="w">Di</span></div>
<div class="d" style="left:701px;top:478px"><b class="n">10</b><span class="w">Lu</span></div>
<div class="d" style="left:701px;top:506px"><b class="n">11</b><span class="w">Ma</span></div>
<div class="d" style="left:701px;top:535px"><b class="n">12</b><span class="w">Me</span></div>
<div class="d" style="left:701px;top:563px"><b class="n">13</b><span class="w">Je</span></div>
<div class="d" style="left:701px;top:591px"><b class="n">14</b><span class="w">Ve</span></div>
<div class="d b" style="left:701px;top:619px"><b class="n">15</b><span class="w">Sa</span></div>
<div class="d b" style="left:701px;top:648px"><b class="n">16</b><span class="w">Di</span></div>
<div class="d" style="left:701px;top:676px"><b class="n">17</b><span class="w">Lu</span></div>
<div class="d" style="left:701px;top:704px"><b class="n">18</b><span class="w">Ma</span></div>
<div class="d" style="left:701px;top:732px"><b class="n">19</b><span class="w">Me</span></div>
<div class="d" style="left:701px;top:761px"><b class="n">20</b><span class="w">Je</span></div>
<div class="d" style="left:701px;top:789px"><b class="n">21</b><span class="w">Ve</span></div>
<div class="d b" style="left:701px;top:817px"><b class="n">22</b><span class="w">Sa</span></div>
<div class="d b" style="left:701px;top:845px"><b class="n">23</b><span class="w">Di</span></div>
<div class="d" style="left:701px;top:874px"><b class="n">24</b><span class="w">Lu</span></div>
<div class="d" style="left:701px;top:902px"><b class="n">25</b><span class="w">Ma</span></div>
<div class="d" style="left:701px;top:930px"><b class="n">26</b><span class="w">Me</span></div>
<div class="d" style="left:701px;top:958px"><b class="n">27</b><span class="w">Je</span></div>
<div class="d" style="left:701px;top:987px"><b class="n">28</b><span class="w">Ve</span></div>
<div class="mh" style="left:813.93px;letter-spacing:-0.13px">MARS</div>
<div class="d b" style="left:814px;top:224px"><b class="n">1</b><span class="w">Sa</span></div>
<div class="d b" style="left:814px;top:252px"><b class="n">2</b><span class="w">Di</span></div>
<div class="d" style="left:814px;top:280px"><b class="n">3</b><span class="w">Lu</span></div>
<div class="d" style="left:814px;top:309px"><b class="n">4</b><span class="w">Ma</span></div>
<div class="d" style="left:814px;top:337px"><b class="n">5</b><span class="w">Me</span></div>
<div class="d" style="left:814px;top:365px"><b class="n">6</b><span class="w">Je</span></div>
<div class="d" style="left:814px;top:393px"><b class="n">7</b><span class="w">Ve</span></div>
<div class="d b" style="left:814px;top:422px"><b class="n">8</b><span class="w">Sa</span></div>
<div class="d b" style="left:814px;top:450px"><b class="n">9</b><span class="w">Di</span></div>
<div class="d" style="left:814px;top:478px"><b class="n">10</b><span class="w">Lu</span></div>
<div class="d" style="left:814px;top:506px"><b class="n">11</b><span class="w">Ma</span></div>
<div class="d" style="left:814px;top:535px"><b class="n">12</b><span class="w">Me</span></div>
<div class="d" style="left:814px;top:563px"><b class="n">13</b><span class="w">Je</span></div>
<div class="d" style="left:814px;top:591px"><b class="n">14</b><span class="w">Ve</span></div>
<div class="d b" style="left:814px;top:619px"><b class="n">15</b><span class="w">Sa</span></div>
<div class="d b" style="left:814px;top:648px"><b class="n">16</b><span class="w">Di</span></div>
<div class="d" style="left:814px;top:676px"><b class="n">17</b><span class="w">Lu</span></div>
<div class="d" style="left:814px;top:704px"><b class="n">18</b><span class="w">Ma</span></div>
<div class="d" style="left:814px;top:732px"><b class="n">19</b><span class="w">Me</span></div>
<div class="d" style="left:814px;top:761px"><b class="n">20</b><span class="w">Je</span></div>
<div class="d" style="left:814px;top:789px"><b class="n">21</b><span class="w">Ve</span></div>
<div class="d b" style="left:814px;top:817px"><b class="n">22</b><span class="w">Sa</span></div>
<div class="d b" style="left:814px;top:845px"><b class="n">23</b><span class="w">Di</span></div>
<div class="d" style="left:814px;top:874px"><b class="n">24</b><span class="w">Lu</span></div>
<div class="d" style="left:814px;top:902px"><b class="n">25</b><span class="w">Ma</span></div>
<div class="d" style="left:814px;top:930px"><b class="n">26</b><span class="w">Me</span></div>
<div class="d" style="left:814px;top:958px"><b class="n">27</b><span class="w">Je</span></div>
<div class="d" style="left:814px;top:987px"><b class="n">28</b><span class="w">Ve</span></div>
<div class="d b" style="left:814px;top:1015px"><b class="n">29</b><span class="w">Sa</span></div>
<div class="d b" style="left:814px;top:1043px"><b class="n">30</b><span class="w">Di</span></div>
<div class="d" style="left:814px;top:1071px"><b class="n">31</b><span class="w">Lu</span></div>
<div class="mh" style="left:927.62px;letter-spacing:1.25px">AVRIL</div>
<div class="d" style="left:927px;top:224px"><b class="n">1</b><span class="w">Ma</span></div>
<div class="d" style="left:927px;top:252px"><b class="n">2</b><span class="w">Me</span></div>
<div class="d" style="left:927px;top:280px"><b class="n">3</b><span class="w">Je</span></div>
<div class="d" style="left:927px;top:309px"><b class="n">4</b><span class="w">Ve</span></div>
<div class="d b" style="left:927px;top:337px"><b class="n">5</b><span class="w">Sa</span></div>
<div class="d b" style="left:927px;top:365px"><b class="n">6</b><span class="w">Di</span></div>
<div class="d" style="left:927px;top:393px"><b class="n">7</b><span class="w">Lu</span></div>
<div class="d" style="left:927px;top:422px"><b class="n">8</b><span class="w">Ma</span></div>
<div class="d" style="left:927px;top:450px"><b class="n">9</b><span class="w">Me</span></div>
<div class="d" style="left:927px;top:478px"><b class="n">10</b><span class="w">Je</span></div>
<div class="d" style="left:927px;top:506px"><b class="n">11</b><span class="w">Ve</span></div>
<div class="d b" style="left:927px;top:535px"><b class="n">12</b><span class="w">Sa</span></div>
<div class="d b" style="left:927px;top:563px"><b class="n">13</b><span class="w">Di</span></div>
<div class="d" style="left:927px;top:591px"><b class="n">14</b><span class="w">Lu</span></div>
<div class="d" style="left:927px;top:619px"><b class="n">15</b><span class="w">Ma</span></div>
<div class="d" style="left:927px;top:648px"><b class="n">16</b><span class="w">Me</span></div>
<div class="d" style="left:927px;top:676px"><b class="n">17</b><span class="w">Je</span></div>
<div class="d" style="left:927px;top:704px"><b class="n">18</b><span class="w">Ve</span></div>
<div class="d b" style="left:927px;top:732px"><b class="n">19</b><span class="w">Sa</span></div>
<div class="d b" style="left:927px;top:761px"><b class="n">20</b><span class="w">Di</span></div>
<div class="d h" style="left:927px;top:789px"><b class="n">21</b><span class="w">Lu</span></div>
<div class="d" style="left:927px;top:817px"><b class="n">22</b><span class="w">Ma</span></div>
<div class="d" style="left:927px;top:845px"><b class="n">23</b><span class="w">Me</span></div>
<div class="d" style="left:927px;top:874px"><b class="n">24</b><span class="w">Je</span></div>
<div class="d" style="left:927px;top:902px"><b class="n">25</b><span class="w">Ve</span></div>
<div class="d b" style="left:927px;top:930px"><b class="n">26</b><span class="w">Sa</span></div>
<div class="d b" style="left:927px;top:958px"><b class="n">27</b><span class="w">Di</span></div>
<div class="d" style="left:927px;top:987px"><b class="n">28</b><span class="w">Lu</span></div>
<div class="d" style="left:927px;top:1015px"><b class="n">29</b><span class="w">Ma</span></div>
<div class="d" style="left:927px;top:1043px"><b class="n">30</b><span class="w">Me</span></div>
<div class="mh" style="left:1040.7px;letter-spacing:1.4px">MAI</div>
<div class="d h" style="left:1040px;top:224px"><b class="n">1</b><span class="w">Je</span></div>
<div class="d" style="left:1040px;top:252px"><b class="n">2</b><span class="w">Ve</span></div>
<div class="d b" style="left:1040px;top:280px"><b class="n">3</b><span class="w">Sa</span></div>
<div class="d b" style="left:1040px;top:309px"><b class="n">4</b><span class="w">Di</span></div>
<div class="d" style="left:1040px;top:337px"><b class="n">5</b><span class="w">Lu</span></div>
<div class="d" style="left:1040px;top:365px"><b class="n">6</b><span class="w">Ma</span></div>
<div class="d" style="left:1040px;top:393px"><b class="n">7</b><span class="w">Me</span></div>
<div class="d h" style="left:1040px;top:422px"><b class="n">8</b><span class="w">Je</span></div>
<div class="d" style="left:1040px;top:450px"><b class="n">9</b><span class="w">Ve</span></div>
<div class="d b" style="left:1040px;top:478px"><b class="n">10</b><span class="w">Sa</span></div>
<div class="d b" style="left:1040px;top:506px"><b class="n">11</b><span class="w">Di</span></div>
<div class="d" style="left:1040px;top:535px"><b class="n">12</b><span class="w">Lu</span></div>
<div class="d" style="left:1040px;top:563px"><b class="n">13</b><span class="w">Ma</span></div>
<div class="d" style="left:1040px;top:591px"><b class="n">14</b><span class="w">Me</span></div>
<div class="d" style="left:1040px;top:619px"><b class="n">15</b><span class="w">Je</span></div>
<div class="d" style="left:1040px;top:648px"><b class="n">16</b><span class="w">Ve</span></div>
<div class="d b" style="left:1040px;top:676px"><b class="n">17</b><span class="w">Sa</span></div>
<div class="d b" style="left:1040px;top:704px"><b class="n">18</b><span class="w">Di</span></div>
<div class="d" style="left:1040px;top:732px"><b class="n">19</b><span class="w">Lu</span></div>
<div class="d" style="left:1040px;top:761px"><b class="n">20</b><span class="w">Ma</span></div>
<div class="d" style="left:1040px;top:789px"><b class="n">21</b><span class="w">Me</span></div>
<div class="d" style="left:1040px;top:817px"><b class="n">22</b><span class="w">Je</span></div>
<div class="d" style="left:1040px;top:845px"><b class="n">23</b><span class="w">Ve</span></div>
<div class="d b" style="left:1040px;top:874px"><b class="n">24</b><span class="w">Sa</span></div>
<div class="d b" style="left:1040px;top:902px"><b class="n">25</b><span class="w">Di</span></div>
<div class="d" style="left:1040px;top:930px"><b class="n">26</b><span class="w">Lu</span></div>
<div class="d" style="left:1040px;top:958px"><b class="n">27</b><span class="w">Ma</span></div>
<div class="d" style="left:1040px;top:987px"><b class="n">28</b><span class="w">Me</span></div>
<div class="d h" style="left:1040px;top:1015px"><b class="n">29</b><span class="w">Je</span></div>
<div class="d" style="left:1040px;top:1043px"><b class="n">30</b><span class="w">Ve</span></div>
<div class="d b" style="left:1040px;top:1071px"><b class="n">31</b><span class="w">Sa</span></div>
<div class="mh" style="left:1153.73px;letter-spacing:1.47px">JUIN</div>
<div class="d b" style="left:1153px;top:224px"><b class="n">1</b><span class="w">Di</span></div>
<div class="d" style="left:1153px;top:252px"><b class="n">2</b><span class="w">Lu</span></div>
<div class="d" style="left:1153px;top:280px"><b class="n">3</b><span class="w">Ma</span></div>
<div class="d" style="left:1153px;top:309px"><b class="n">4</b><span class="w">Me</span></div>
<div class="d" style="left:1153px;top:337px"><b class="n">5</b><span class="w">Je</span></div>
<div class="d" style="left:1153px;top:365px"><b class="n">6</b><span class="w">Ve</span></div>
<div class="d b" style="left:1153px;top:393px"><b class="n">7</b><span class="w">Sa</span></div>
<div class="d b" style="left:1153px;top:422px"><b class="n">8</b><span class="w">Di</span></div>
<div class="d h" style="left:1153px;top:450px"><b class="n">9</b><span class="w">Lu</span></div>
<div class="d" style="left:1153px;top:478px"><b class="n">10</b><span class="w">Ma</span></div>
<div class="d" style="left:1153px;top:506px"><b class="n"></b><span class="w">Me</span></div>
<div class="d" style="left:1153px;top:535px"><b class="n">12</b><span class="w">Je</span></div>
<div class="d" style="left:1153px;top:563px"><b class="n">13</b><span class="w">Ve</span></div>
<div class="d b" style="left:1153px;top:591px"><b class="n">14</b><span class="w">Sa</span></div>
<div class="d b" style="left:1153px;top:619px"><b class="n">15</b><span class="w">Di</span></div>
<div class="d" style="left:1153px;top:648px"><b class="n">16</b><span class="w">Lu</span></div>
<div class="d" style="left:1153px;top:676px"><b class="n">17</b><span class="w">Ma</span></div>
<div class="d" style="left:1153px;top:704px"><b class="n">18</b><span class="w">Me</span></div>
<div class="d" style="left:1153px;top:732px"><b class="n">19</b><span class="w">Je</span></div>
<div class="d" style="left:1153px;top:761px"><b class="n">20</b><span class="w">Ve</span></div>
<div class="d b" style="left:1153px;top:789px"><b class="n">21</b><span class="w">Sa</span></div>
<div class="d b" style="left:1153px;top:817px"><b class="n">22</b><span class="w">Di</span></div>
<div class="d" style="left:1153px;top:845px"><b class="n">23</b><span class="w">Lu</span></div>
<div class="d" style="left:1153px;top:874px"><b class="n">24</b><span class="w">Ma</span></div>
<div class="d" style="left:1153px;top:902px"><b class="n">25</b><span class="w">Me</span></div>
<div class="d" style="left:1153px;top:930px"><b class="n">26</b><span class="w">Je</span></div>
<div class="d" style="left:1153px;top:958px"><b class="n">27</b><span class="w">Ve</span></div>
<div class="d b" style="left:1153px;top:987px"><b class="n">28</b><span class="w">Sa</span></div>
<div class="d b" style="left:1153px;top:1015px"><b class="n">29</b><span class="w">Di</span></div>
<div class="d" style="left:1153px;top:1043px"><b class="n">30</b><span class="w">Lu</span></div>
<div class="mh" style="left:1266.43px;letter-spacing:0.87px">JUILLET</div>
<div class="d" style="left:1266px;top:224px"><b class="n">1</b><span class="w">Ma</span></div>
<div class="d" style="left:1266px;top:252px"><b class="n">2</b><span class="w">Me</span></div>
<div class="d" style="left:1266px;top:280px"><b class="n">3</b><span class="w">Je</span></div>
<div class="d" style="left:1266px;top:309px"><b class="n">4</b><span class="w">Ve</span></div>
<div class="d b" style="left:1266px;top:337px"><b class="n">5</b><span class="w">Sa</span></div>
<div class="d b" style="left:1266px;top:365px"><b class="n">6</b><span class="w">Di</span></div>
<div class="d" style="left:1266px;top:393px"><b class="n">7</b><span class="w">Lu</span></div>
<div class="d" style="left:1266px;top:422px"><b class="n">8</b><span class="w">Ma</span></div>
<div class="d" style="left:1266px;top:450px"><b class="n">9</b><span class="w">Me</span></div>
<div class="d" style="left:1266px;top:478px"><b class="n">10</b><span class="w">Je</span></div>
<div class="d" style="left:1266px;top:506px"><b class="n">11</b><span class="w">Ve</span></div>
<div class="d b" style="left:1266px;top:535px"><b class="n">12</b><span class="w">Sa</span></div>
<div class="d b" style="left:1266px;top:563px"><b class="n">13</b><span class="w">Di</span></div>
<div class="d h" style="left:1266px;top:591px"><b class="n">14</b><span class="w">Lu</span></div>
<div class="d" style="left:1266px;top:619px"><b class="n">15</b><span class="w">Ma</span></div>
<div class="d" style="left:1266px;top:648px"><b class="n">16</b><span class="w">Me</span></div>
<div class="d" style="left:1266px;top:676px"><b class="n">17</b><span class="w">Je</span></div>
<div class="d" style="left:1266px;top:704px"><b class="n">18</b><span class="w">Ve</span></div>
<div class="d b" style="left:1266px;top:732px"><b class="n">19</b><span class="w">Sa</span></div>
<div class="d b" style="left:1266px;top:761px"><b class="n">20</b><span class="w">Di</span></div>
<div class="d" style="left:1266px;top:789px"><b class="n">21</b><span class="w">Lu</span></div>
<div class="d" style="left:1266px;top:817px"><b class="n">22</b><span class="w">Ma</span></div>
<div class="d" style="left:1266px;top:845px"><b class="n">23</b><span class="w">Me</span></div>
<div class="d" style="left:1266px;top:874px"><b class="n">24</b><span class="w">Je</span></div>
<div class="d" style="left:1266px;top:902px"><b class="n">25</b><span class="w">Ve</span></div>
<div class="d b" style="left:1266px;top:930px"><b class="n">26</b><span class="w">Sa</span></div>
<div class="d b" style="left:1266px;top:958px"><b class="n">27</b><span class="w">Di</span></div>
<div class="d" style="left:1266px;top:987px"><b class="n">28</b><span class="w">Lu</span></div>
<div class="d" style="left:1266px;top:1015px"><b class="n">29</b><span class="w">Ma</span></div>
<div class="d" style="left:1266px;top:1043px"><b class="n">30</b><span class="w">Me</span></div>
<div class="d" style="left:1266px;top:1071px"><b class="n">31</b><span class="w">Je</span></div>
<div class="mh" style="left:1378.84px;letter-spacing:-0.33px">AOÛT</div>
<div class="d" style="left:1379px;top:224px"><b class="n">1</b><span class="w">Ve</span></div>
<div class="d b" style="left:1379px;top:252px"><b class="n">2</b><span class="w">Sa</span></div>
<div class="d b" style="left:1379px;top:280px"><b class="n">3</b><span class="w">Di</span></div>
<div class="d" style="left:1379px;top:309px"><b class="n">4</b><span class="w">Lu</span></div>
<div class="d" style="left:1379px;top:337px"><b class="n">5</b><span class="w">Ma</span></div>
<div class="d" style="left:1379px;top:365px"><b class="n">6</b><span class="w">Me</span></div>
<div class="d" style="left:1379px;top:393px"><b class="n">7</b><span class="w">Je</span></div>
<div class="d" style="left:1379px;top:422px"><b class="n">8</b><span class="w">Ve</span></div>
<div class="d b" style="left:1379px;top:450px"><b class="n">9</b><span class="w">Sa</span></div>
<div class="d b" style="left:1379px;top:478px"><b class="n">10</b><span class="w">Di</span></div>
<div class="d" style="left:1379px;top:506px"><b class="n">11</b><span class="w">Lu</span></div>
<div class="d" style="left:1379px;top:535px"><b class="n">12</b><span class="w">Ma</span></div>
<div class="d" style="left:1379px;top:563px"><b class="n">13</b><span class="w">Me</span></div>
<div class="d" style="left:1379px;top:591px"><b class="n">14</b><span class="w">Je</span></div>
<div class="d h" style="left:1379px;top:619px"><b class="n">15</b><span class="w">Ve</span></div>
<div class="d b" style="left:1379px;top:648px"><b class="n">16</b><span class="w">Sa</span></div>
<div class="d b" style="left:1379px;top:676px"><b class="n">17</b><span class="w">Di</span></div>
<div class="d" style="left:1379px;top:704px"><b class="n">18</b><span class="w">Lu</span></div>
<div class="d" style="left:1379px;top:732px"><b class="n">19</b><span class="w">Ma</span></div>
<div class="d" style="left:1379px;top:761px"><b class="n">20</b><span class="w">Me</span></div>
<div class="d" style="left:1379px;top:789px"><b class="n">21</b><span class="w">Je</span></div>
<div class="d" style="left:1379px;top:817px"><b class="n">22</b><span class="w">Ve</span></div>
<div class="d b" style="left:1379px;top:845px"><b class="n">23</b><span class="w">Sa</span></div>
<div class="d b" style="left:1379px;top:874px"><b class="n">24</b><span class="w">Di</span></div>
<div class="d" style="left:1379px;top:902px"><b class="n">25</b><span class="w">Lu</span></div>
<div class="d" style="left:1379px;top:930px"><b class="n">26</b><span class="w">Ma</span></div>
<div class="d" style="left:1379px;top:958px"><b class="n">27</b><span class="w">Me</span></div>
<div class="d" style="left:1379px;top:987px"><b class="n">28</b><span class="w">Je</span></div>
<div class="d" style="left:1379px;top:1015px"><b class="n">29</b><span class="w">Ve</span></div>
<div class="d b" style="left:1379px;top:1043px"><b class="n">30</b><span class="w">Sa</span></div>
<div class="d b" style="left:1379px;top:1071px"><b class="n">31</b><span class="w">Di</span></div>
<div class="ft" id="f1" style="left:143px"><i></i>Les élèves ayant cours le samedi sont en vacances le samedi soir</div>
<div class="ft" id="f2" style="left:1203px"><i></i>Les jours fériés sont indiqués en <b>rouge</b></div>
</body></html>
